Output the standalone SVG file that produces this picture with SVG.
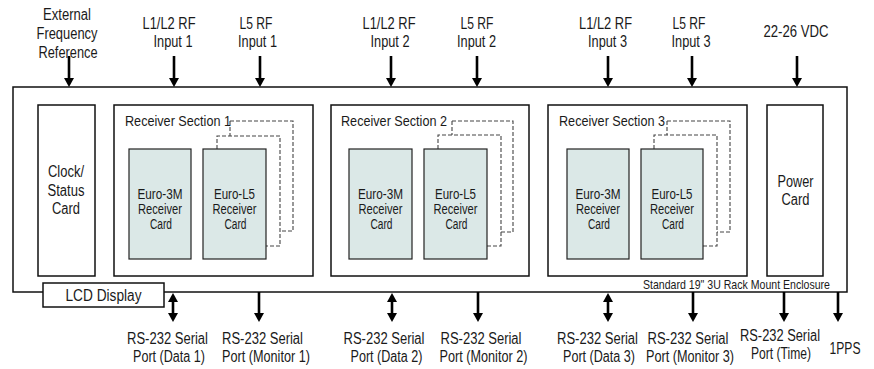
<svg xmlns="http://www.w3.org/2000/svg" width="874" height="369" viewBox="0 0 874 369">
<style>
.t{font-family:'Liberation Sans',Arial,sans-serif;font-size:16px;fill:#1a1a1a;text-anchor:middle}
.s{font-size:14px}
.sm{font-size:13px;text-anchor:end}
.st{text-anchor:start;font-size:15.5px}
.box{fill:#fff;stroke:#111;stroke-width:1.5}
.card{fill:#dbe8e7;stroke:#222;stroke-width:1.2}
.dash{fill:none;stroke:#444;stroke-width:1.1;stroke-dasharray:4,2}
.arr{fill:none;stroke:#000;stroke-width:2.6}
</style>
<defs>
<marker id="ah" markerUnits="userSpaceOnUse" viewBox="0 0 10 10" markerWidth="10" markerHeight="10" refX="4.5" refY="5" orient="auto-start-reverse">
<path d="M0,0 L9,5 L0,10 z" fill="#000"/>
</marker>
</defs>

<g id="enclosure">
<rect class="box" x="13" y="87" width="834" height="205"/>
<text class="t sm" x="830" y="289" textLength="187" lengthAdjust="spacingAndGlyphs">Standard 19" 3U Rack Mount Enclosure</text>
</g>

<g id="clock-status-card">
<rect class="box" x="38" y="105" width="57" height="171"/>
<text class="t" x="66" y="177" textLength="36" lengthAdjust="spacingAndGlyphs">Clock/</text>
<text class="t" x="66" y="196" textLength="37" lengthAdjust="spacingAndGlyphs">Status</text>
<text class="t" x="66" y="214" textLength="28" lengthAdjust="spacingAndGlyphs">Card</text>
</g>

<g id="receiver-section-1">
<rect class="box" x="114" y="105" width="199" height="171"/>
<text class="t st" x="125" y="126" textLength="106" lengthAdjust="spacingAndGlyphs">Receiver Section 1</text>
<path class="dash" d="M230,121 H293 V231 H280 M230,121 V136"/>
<path class="dash" d="M217,149 V136 H280 V246 H266"/>
<g id="euro-3m-1">
<rect class="card" x="129" y="149" width="62" height="110"/>
<text class="t s" x="160" y="199" textLength="45" lengthAdjust="spacingAndGlyphs">Euro-3M</text>
<text class="t s" x="160" y="214" textLength="44" lengthAdjust="spacingAndGlyphs">Receiver</text>
<text class="t s" x="161" y="229" textLength="22" lengthAdjust="spacingAndGlyphs">Card</text>
</g>
<g id="euro-l5-1">
<rect class="card" x="203" y="149" width="63" height="110"/>
<text class="t s" x="234.5" y="199" textLength="41" lengthAdjust="spacingAndGlyphs">Euro-L5</text>
<text class="t s" x="234.5" y="214" textLength="44" lengthAdjust="spacingAndGlyphs">Receiver</text>
<text class="t s" x="235.5" y="229" textLength="22" lengthAdjust="spacingAndGlyphs">Card</text>
</g>
</g>

<g id="receiver-section-2">
<rect class="box" x="331" y="105" width="198" height="171"/>
<text class="t st" x="341" y="126" textLength="106" lengthAdjust="spacingAndGlyphs">Receiver Section 2</text>
<path class="dash" d="M452,121 H513 V232 H501 M452,121 V135"/>
<path class="dash" d="M438,149 V135 H501 V246 H487"/>
<g id="euro-3m-2">
<rect class="card" x="349" y="149" width="63" height="110"/>
<text class="t s" x="380.5" y="199" textLength="45" lengthAdjust="spacingAndGlyphs">Euro-3M</text>
<text class="t s" x="380.5" y="214" textLength="44" lengthAdjust="spacingAndGlyphs">Receiver</text>
<text class="t s" x="381.5" y="229" textLength="22" lengthAdjust="spacingAndGlyphs">Card</text>
</g>
<g id="euro-l5-2">
<rect class="card" x="424" y="149" width="63" height="110"/>
<text class="t s" x="455.5" y="199" textLength="41" lengthAdjust="spacingAndGlyphs">Euro-L5</text>
<text class="t s" x="455.5" y="214" textLength="44" lengthAdjust="spacingAndGlyphs">Receiver</text>
<text class="t s" x="456.5" y="229" textLength="22" lengthAdjust="spacingAndGlyphs">Card</text>
</g>
</g>

<g id="receiver-section-3">
<rect class="box" x="548" y="105" width="199" height="171"/>
<text class="t st" x="559" y="126" textLength="106" lengthAdjust="spacingAndGlyphs">Receiver Section 3</text>
<path class="dash" d="M667,121 H730 V232 H717 M667,121 V135"/>
<path class="dash" d="M654,149 V135 H717 V246 H703"/>
<g id="euro-3m-3">
<rect class="card" x="567" y="149" width="62" height="110"/>
<text class="t s" x="598" y="199" textLength="45" lengthAdjust="spacingAndGlyphs">Euro-3M</text>
<text class="t s" x="598" y="214" textLength="44" lengthAdjust="spacingAndGlyphs">Receiver</text>
<text class="t s" x="599" y="229" textLength="22" lengthAdjust="spacingAndGlyphs">Card</text>
</g>
<g id="euro-l5-3">
<rect class="card" x="641" y="149" width="62" height="110"/>
<text class="t s" x="672" y="199" textLength="41" lengthAdjust="spacingAndGlyphs">Euro-L5</text>
<text class="t s" x="672" y="214" textLength="44" lengthAdjust="spacingAndGlyphs">Receiver</text>
<text class="t s" x="673" y="229" textLength="22" lengthAdjust="spacingAndGlyphs">Card</text>
</g>
</g>

<g id="power-card">
<rect class="box" x="767" y="105" width="56" height="171"/>
<text class="t" x="795.5" y="187" textLength="36" lengthAdjust="spacingAndGlyphs">Power</text>
<text class="t" x="795.5" y="205" textLength="28" lengthAdjust="spacingAndGlyphs">Card</text>
</g>

<g id="lcd-display">
<rect class="box" x="43" y="283" width="121" height="24"/>
<text class="t" x="103.5" y="301" textLength="76" lengthAdjust="spacingAndGlyphs">LCD Display</text>
</g>

<g id="connectors">
<path class="arr" marker-end="url(#ah)" d="M69,56 V82.5"/>
<path class="arr" marker-end="url(#ah)" d="M174,56 V82.5"/>
<path class="arr" marker-end="url(#ah)" d="M260,56 V82.5"/>
<path class="arr" marker-end="url(#ah)" d="M391,56 V82.5"/>
<path class="arr" marker-end="url(#ah)" d="M477,56 V82.5"/>
<path class="arr" marker-end="url(#ah)" d="M608,56 V82.5"/>
<path class="arr" marker-end="url(#ah)" d="M692,56 V82.5"/>
<path class="arr" marker-end="url(#ah)" d="M797,56 V82.5"/>
<path class="arr" marker-start="url(#ah)" marker-end="url(#ah)" d="M173,297.5 V317.5"/>
<path class="arr" marker-end="url(#ah)" d="M259,292 V317.5"/>
<path class="arr" marker-start="url(#ah)" marker-end="url(#ah)" d="M392,297.5 V317.5"/>
<path class="arr" marker-end="url(#ah)" d="M478,292 V317.5"/>
<path class="arr" marker-start="url(#ah)" marker-end="url(#ah)" d="M608,297.5 V317.5"/>
<path class="arr" marker-end="url(#ah)" d="M693,292 V317.5"/>
<path class="arr" marker-end="url(#ah)" d="M784,292 V317.5"/>
<path class="arr" marker-end="url(#ah)" d="M838,292 V317.5"/>
</g>

<g id="labels-top">
<text class="t" x="67" y="20" textLength="48" lengthAdjust="spacingAndGlyphs">External</text>
<text class="t" x="67" y="39" textLength="61" lengthAdjust="spacingAndGlyphs">Frequency</text>
<text class="t" x="68" y="58" textLength="59" lengthAdjust="spacingAndGlyphs">Reference</text>
<text class="t" x="169" y="29" textLength="53" lengthAdjust="spacingAndGlyphs">L1/L2 RF</text>
<text class="t" x="173" y="47" textLength="39" lengthAdjust="spacingAndGlyphs">Input 1</text>
<text class="t" x="256" y="29" textLength="33" lengthAdjust="spacingAndGlyphs">L5 RF</text>
<text class="t" x="257.5" y="47" textLength="39" lengthAdjust="spacingAndGlyphs">Input 1</text>
<text class="t" x="389" y="29" textLength="53" lengthAdjust="spacingAndGlyphs">L1/L2 RF</text>
<text class="t" x="390" y="47" textLength="39" lengthAdjust="spacingAndGlyphs">Input 2</text>
<text class="t" x="477" y="29" textLength="33" lengthAdjust="spacingAndGlyphs">L5 RF</text>
<text class="t" x="476.5" y="47" textLength="39" lengthAdjust="spacingAndGlyphs">Input 2</text>
<text class="t" x="605.5" y="29" textLength="53" lengthAdjust="spacingAndGlyphs">L1/L2 RF</text>
<text class="t" x="607.5" y="47" textLength="39" lengthAdjust="spacingAndGlyphs">Input 3</text>
<text class="t" x="689" y="29" textLength="33" lengthAdjust="spacingAndGlyphs">L5 RF</text>
<text class="t" x="691" y="47" textLength="39" lengthAdjust="spacingAndGlyphs">Input 3</text>
<text class="t" x="796" y="37" textLength="65" lengthAdjust="spacingAndGlyphs">22-26 VDC</text>
</g>

<g id="labels-bottom">
<text class="t" x="167.5" y="344" textLength="81" lengthAdjust="spacingAndGlyphs">RS-232 Serial</text>
<text class="t" x="169" y="362" textLength="72" lengthAdjust="spacingAndGlyphs">Port (Data 1)</text>
<text class="t" x="262.5" y="344" textLength="81" lengthAdjust="spacingAndGlyphs">RS-232 Serial</text>
<text class="t" x="266" y="362" textLength="88" lengthAdjust="spacingAndGlyphs">Port (Monitor 1)</text>
<text class="t" x="384" y="344" textLength="81" lengthAdjust="spacingAndGlyphs">RS-232 Serial</text>
<text class="t" x="386.5" y="362" textLength="72" lengthAdjust="spacingAndGlyphs">Port (Data 2)</text>
<text class="t" x="481" y="344" textLength="81" lengthAdjust="spacingAndGlyphs">RS-232 Serial</text>
<text class="t" x="483.5" y="362" textLength="88" lengthAdjust="spacingAndGlyphs">Port (Monitor 2)</text>
<text class="t" x="597.5" y="344" textLength="81" lengthAdjust="spacingAndGlyphs">RS-232 Serial</text>
<text class="t" x="599" y="362" textLength="72" lengthAdjust="spacingAndGlyphs">Port (Data 3)</text>
<text class="t" x="688" y="344" textLength="81" lengthAdjust="spacingAndGlyphs">RS-232 Serial</text>
<text class="t" x="690" y="362" textLength="88" lengthAdjust="spacingAndGlyphs">Port (Monitor 3)</text>
<text class="t" x="780" y="341" textLength="80" lengthAdjust="spacingAndGlyphs">RS-232 Serial</text>
<text class="t" x="781" y="359" textLength="60" lengthAdjust="spacingAndGlyphs">Port (Time)</text>
<text class="t" x="845" y="354" textLength="31" lengthAdjust="spacingAndGlyphs">1PPS</text>
</g>
</svg>
